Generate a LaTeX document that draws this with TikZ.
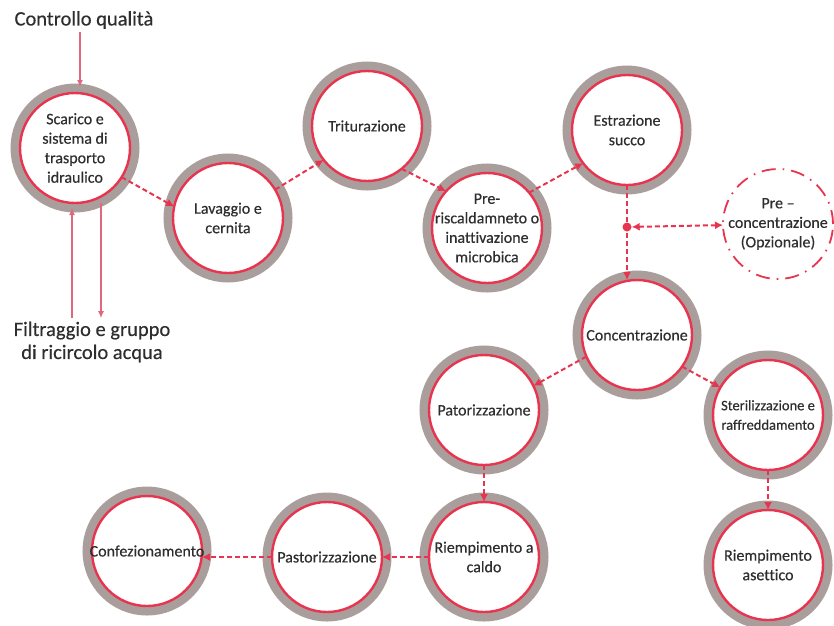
\documentclass[tikz,border=0pt]{standalone}
\usepackage{fontspec}
\setmainfont{Carlito}[Ligatures=NoCommon, FakeBold=0.4]
\usetikzlibrary{arrows.meta}

\definecolor{rossofase}{HTML}{E8344E}
\definecolor{alone}{HTML}{A99E9C}
\definecolor{scritta}{HTML}{2E2E2E}
\definecolor{rosalinea}{HTML}{E0687E}

\begin{document}
\begin{tikzpicture}[x=1pt,y=-1pt,
    fase/.style={circle, draw=rossofase, line width=2.4pt, fill=white,
      minimum size=110pt, inner sep=-14pt, outer sep=0pt, align=center,
      text=scritta, font=\fontsize{16}{19.5}\selectfont,
      preaction={draw=alone, line width=19pt}},
    opzionale/.style={circle, draw=rossofase, line width=1.8pt,
      dash pattern=on 14pt off 7pt on 1.6pt off 7pt,
      minimum size=110pt, inner sep=-14pt, outer sep=0pt, align=center,
      text=scritta, font=\fontsize{16}{19.5}\selectfont},
    flusso/.style={draw=rossofase, line width=2pt, dash pattern=on 5pt off 3pt,
      ->, >={Latex[length=8pt,width=8pt]}},
    linea/.style={draw=rosalinea, line width=1.3pt, ->, >={Latex[length=7pt,width=6pt]}},
    titolo/.style={text=scritta, align=center, font=\fontsize{20.5}{23}\selectfont}]

    \useasboundingbox (0,0) rectangle (834,625);

    % fasi del processo
    \node[fase] (scarico) at (75,148) {Scarico e\\sistema di\\trasporto\\idraulico};
    \node[fase] (lavaggio) at (228,218) {Lavaggio e\\cernita};
    \node[fase] (triturazione) at (367,126) {Triturazione};
    \node[fase] (preriscaldo) at (487,228) {Pre-\\riscaldamneto o\\inattivazione\\microbica};
    \node[fase] (estrazione) at (627,130) {Estrazione\\succo};
    \node[opzionale] (preconc) at (778,224) {Pre --\\concentrazione\\(Opzionale)};
    \node[fase] (concentrazione) at (637,335) {Concentrazione};
    \node[fase] (patorizzazione) at (484,410) {Patorizzazione};
    \node[fase, font=\fontsize{14.5}{19.5}\selectfont] (sterilizzazione) at (768,415) {Sterilizzazione e\\raffreddamento};
    \node[fase] (caldo) at (484,557) {Riempimento a\\caldo};
    \node[fase] (asettico) at (768,565) {Riempimento\\asettico};
    \node[fase] (pastorizzazione) at (327,557) {Pastorizzazione};
    \node[fase] (confezionamento) at (147,551) {Confezionamento};

    \node[circle, fill=rossofase, minimum size=9pt, inner sep=0pt] (bivio) at (627,227) {};

    % ingressi e uscite esterni
    \node[titolo] (controllo) at (84,20) {Controllo qualità};
    \node[titolo] (filtraggio) at (92,342) {Filtraggio e gruppo\\di ricircolo acqua};

    \draw[linea] ([xshift=5pt]scarico.north |- controllo.south) -- ([xshift=5pt,yshift=6pt]scarico.north);
    \draw[linea] ([xshift=-3pt]scarico.south |- filtraggio.north) -- ([xshift=-3pt,yshift=-5pt]scarico.south);
    \draw[linea] ([xshift=26pt]scarico.south) -- ([xshift=26pt]scarico.south |- filtraggio.north);

    % sequenza di lavorazione
    \draw[flusso] (scarico.-32) -- (lavaggio.168);
    \draw[flusso] (lavaggio.31) -- (triturazione.218);
    \draw[flusso] (triturazione.-51) -- (preriscaldo.138);
    \draw[flusso] (preriscaldo.40) -- (estrazione.217);
    \draw[flusso] (estrazione.south) -- (bivio.center) -- (bivio |- concentrazione.north);
    \draw[flusso, <->] (bivio) -- (preconc);
    \draw[flusso] (concentrazione.203) -- (patorizzazione.26);
    \draw[flusso] (concentrazione.-35) -- (sterilizzazione.150);
    \draw[flusso] (patorizzazione) -- (caldo);
    \draw[flusso] (sterilizzazione) -- (asettico);
    \draw[flusso] (caldo) -- (pastorizzazione);
    \draw[flusso] (pastorizzazione.west) -- (pastorizzazione.west -| confezionamento.east);
\end{tikzpicture}
\end{document}
